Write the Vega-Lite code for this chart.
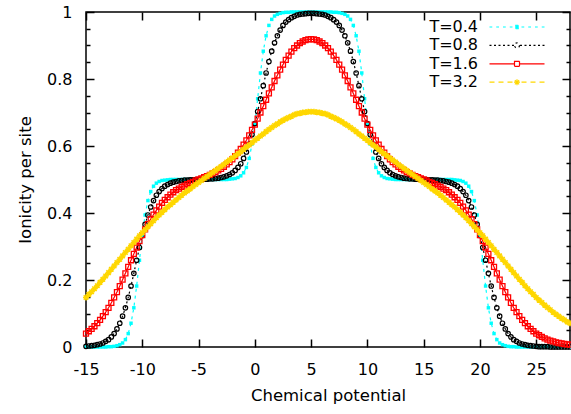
{
"$schema":"https://vega.github.io/schema/vega-lite/v6.json",
"width":484,"height":335,
"autosize":{"type":"none"},
"padding":{"left":86,"top":12,"right":1,"bottom":67},
"background":"white",
"config":{
"view":{"stroke":"black","strokeWidth":1.5},
"font":"DejaVu Sans",
"axis":{"grid":false,"domain":false,"tickColor":"black","tickWidth":1.5,"labelFont":"DejaVu Sans","labelFontSize":16,"labelColor":"black","titleFont":"DejaVu Sans","titleFontSize":16.5,"titleFontWeight":"normal","titleColor":"black","labelFlush":false,"labelOverlap":false}
},
"data":{"values":[
{"T":"T=0.4","mu":-15,"v":0},{"T":"T=0.4","mu":-14.75,"v":0},{"T":"T=0.4","mu":-14.5,"v":0},{"T":"T=0.4","mu":-14.25,"v":0},{"T":"T=0.4","mu":-14,"v":0},{"T":"T=0.4","mu":-13.75,"v":0},{"T":"T=0.4","mu":-13.5,"v":0},{"T":"T=0.4","mu":-13.25,"v":0},{"T":"T=0.4","mu":-13,"v":0.001},{"T":"T=0.4","mu":-12.75,"v":0.001},{"T":"T=0.4","mu":-12.5,"v":0.002},{"T":"T=0.4","mu":-12.25,"v":0.004},{"T":"T=0.4","mu":-12,"v":0.007},{"T":"T=0.4","mu":-11.75,"v":0.012},{"T":"T=0.4","mu":-11.5,"v":0.022},{"T":"T=0.4","mu":-11.25,"v":0.04},{"T":"T=0.4","mu":-11,"v":0.071},{"T":"T=0.4","mu":-10.75,"v":0.117},{"T":"T=0.4","mu":-10.5,"v":0.182},{"T":"T=0.4","mu":-10.25,"v":0.259},{"T":"T=0.4","mu":-10,"v":0.333},{"T":"T=0.4","mu":-9.75,"v":0.394},{"T":"T=0.4","mu":-9.5,"v":0.437},{"T":"T=0.4","mu":-9.25,"v":0.464},{"T":"T=0.4","mu":-9,"v":0.48},{"T":"T=0.4","mu":-8.75,"v":0.489},{"T":"T=0.4","mu":-8.5,"v":0.494},{"T":"T=0.4","mu":-8.25,"v":0.497},{"T":"T=0.4","mu":-8,"v":0.498},{"T":"T=0.4","mu":-7.75,"v":0.499},{"T":"T=0.4","mu":-7.5,"v":0.5},{"T":"T=0.4","mu":-7.25,"v":0.5},{"T":"T=0.4","mu":-7,"v":0.5},{"T":"T=0.4","mu":-6.75,"v":0.5},{"T":"T=0.4","mu":-6.5,"v":0.5},{"T":"T=0.4","mu":-6.25,"v":0.5},{"T":"T=0.4","mu":-6,"v":0.5},{"T":"T=0.4","mu":-5.75,"v":0.5},{"T":"T=0.4","mu":-5.5,"v":0.5},{"T":"T=0.4","mu":-5.25,"v":0.5},{"T":"T=0.4","mu":-5,"v":0.5},{"T":"T=0.4","mu":-4.75,"v":0.5},{"T":"T=0.4","mu":-4.5,"v":0.5},{"T":"T=0.4","mu":-4.25,"v":0.5},{"T":"T=0.4","mu":-4,"v":0.5},{"T":"T=0.4","mu":-3.75,"v":0.5},{"T":"T=0.4","mu":-3.5,"v":0.5},{"T":"T=0.4","mu":-3.25,"v":0.5},{"T":"T=0.4","mu":-3,"v":0.5},{"T":"T=0.4","mu":-2.75,"v":0.5},{"T":"T=0.4","mu":-2.5,"v":0.5},{"T":"T=0.4","mu":-2.25,"v":0.501},{"T":"T=0.4","mu":-2,"v":0.502},{"T":"T=0.4","mu":-1.75,"v":0.503},{"T":"T=0.4","mu":-1.5,"v":0.506},{"T":"T=0.4","mu":-1.25,"v":0.511},{"T":"T=0.4","mu":-1,"v":0.52},{"T":"T=0.4","mu":-0.75,"v":0.536},{"T":"T=0.4","mu":-0.5,"v":0.563},{"T":"T=0.4","mu":-0.25,"v":0.606},{"T":"T=0.4","mu":0,"v":0.667},{"T":"T=0.4","mu":0.25,"v":0.741},{"T":"T=0.4","mu":0.5,"v":0.818},{"T":"T=0.4","mu":0.75,"v":0.883},{"T":"T=0.4","mu":1,"v":0.929},{"T":"T=0.4","mu":1.25,"v":0.96},{"T":"T=0.4","mu":1.5,"v":0.978},{"T":"T=0.4","mu":1.75,"v":0.988},{"T":"T=0.4","mu":2,"v":0.993},{"T":"T=0.4","mu":2.25,"v":0.996},{"T":"T=0.4","mu":2.5,"v":0.998},{"T":"T=0.4","mu":2.75,"v":0.999},{"T":"T=0.4","mu":3,"v":0.999},{"T":"T=0.4","mu":3.25,"v":1},{"T":"T=0.4","mu":3.5,"v":1},{"T":"T=0.4","mu":3.75,"v":1},{"T":"T=0.4","mu":4,"v":1},{"T":"T=0.4","mu":4.25,"v":1},{"T":"T=0.4","mu":4.5,"v":1},{"T":"T=0.4","mu":4.75,"v":1},{"T":"T=0.4","mu":5,"v":1},{"T":"T=0.4","mu":5.25,"v":1},{"T":"T=0.4","mu":5.5,"v":1},{"T":"T=0.4","mu":5.75,"v":1},{"T":"T=0.4","mu":6,"v":1},{"T":"T=0.4","mu":6.25,"v":1},{"T":"T=0.4","mu":6.5,"v":1},{"T":"T=0.4","mu":6.75,"v":1},{"T":"T=0.4","mu":7,"v":0.999},{"T":"T=0.4","mu":7.25,"v":0.999},{"T":"T=0.4","mu":7.5,"v":0.998},{"T":"T=0.4","mu":7.75,"v":0.996},{"T":"T=0.4","mu":8,"v":0.993},{"T":"T=0.4","mu":8.25,"v":0.988},{"T":"T=0.4","mu":8.5,"v":0.978},{"T":"T=0.4","mu":8.75,"v":0.96},{"T":"T=0.4","mu":9,"v":0.929},{"T":"T=0.4","mu":9.25,"v":0.883},{"T":"T=0.4","mu":9.5,"v":0.818},{"T":"T=0.4","mu":9.75,"v":0.741},{"T":"T=0.4","mu":10,"v":0.667},{"T":"T=0.4","mu":10.25,"v":0.606},{"T":"T=0.4","mu":10.5,"v":0.563},{"T":"T=0.4","mu":10.75,"v":0.536},{"T":"T=0.4","mu":11,"v":0.52},{"T":"T=0.4","mu":11.25,"v":0.511},{"T":"T=0.4","mu":11.5,"v":0.506},{"T":"T=0.4","mu":11.75,"v":0.503},{"T":"T=0.4","mu":12,"v":0.502},{"T":"T=0.4","mu":12.25,"v":0.501},{"T":"T=0.4","mu":12.5,"v":0.5},{"T":"T=0.4","mu":12.75,"v":0.5},{"T":"T=0.4","mu":13,"v":0.5},{"T":"T=0.4","mu":13.25,"v":0.5},{"T":"T=0.4","mu":13.5,"v":0.5},{"T":"T=0.4","mu":13.75,"v":0.5},{"T":"T=0.4","mu":14,"v":0.5},{"T":"T=0.4","mu":14.25,"v":0.5},{"T":"T=0.4","mu":14.5,"v":0.5},{"T":"T=0.4","mu":14.75,"v":0.5},{"T":"T=0.4","mu":15,"v":0.5},{"T":"T=0.4","mu":15.25,"v":0.5},{"T":"T=0.4","mu":15.5,"v":0.5},{"T":"T=0.4","mu":15.75,"v":0.5},{"T":"T=0.4","mu":16,"v":0.5},{"T":"T=0.4","mu":16.25,"v":0.5},{"T":"T=0.4","mu":16.5,"v":0.5},{"T":"T=0.4","mu":16.75,"v":0.5},{"T":"T=0.4","mu":17,"v":0.5},{"T":"T=0.4","mu":17.25,"v":0.5},{"T":"T=0.4","mu":17.5,"v":0.5},{"T":"T=0.4","mu":17.75,"v":0.499},{"T":"T=0.4","mu":18,"v":0.498},{"T":"T=0.4","mu":18.25,"v":0.497},{"T":"T=0.4","mu":18.5,"v":0.494},{"T":"T=0.4","mu":18.75,"v":0.489},{"T":"T=0.4","mu":19,"v":0.48},{"T":"T=0.4","mu":19.25,"v":0.464},{"T":"T=0.4","mu":19.5,"v":0.437},{"T":"T=0.4","mu":19.75,"v":0.394},{"T":"T=0.4","mu":20,"v":0.333},{"T":"T=0.4","mu":20.25,"v":0.259},{"T":"T=0.4","mu":20.5,"v":0.182},{"T":"T=0.4","mu":20.75,"v":0.117},{"T":"T=0.4","mu":21,"v":0.071},{"T":"T=0.4","mu":21.25,"v":0.04},{"T":"T=0.4","mu":21.5,"v":0.022},{"T":"T=0.4","mu":21.75,"v":0.012},{"T":"T=0.4","mu":22,"v":0.007},{"T":"T=0.4","mu":22.25,"v":0.004},{"T":"T=0.4","mu":22.5,"v":0.002},{"T":"T=0.4","mu":22.75,"v":0.001},{"T":"T=0.4","mu":23,"v":0.001},{"T":"T=0.4","mu":23.25,"v":0},{"T":"T=0.4","mu":23.5,"v":0},{"T":"T=0.4","mu":23.75,"v":0},{"T":"T=0.4","mu":24,"v":0},{"T":"T=0.4","mu":24.25,"v":0},{"T":"T=0.4","mu":24.5,"v":0},{"T":"T=0.4","mu":24.75,"v":0},{"T":"T=0.4","mu":25,"v":0},{"T":"T=0.4","mu":25.25,"v":0},{"T":"T=0.4","mu":25.5,"v":0},{"T":"T=0.4","mu":25.75,"v":0},{"T":"T=0.4","mu":26,"v":0},{"T":"T=0.4","mu":26.25,"v":0},{"T":"T=0.4","mu":26.5,"v":0},{"T":"T=0.4","mu":26.75,"v":0},{"T":"T=0.4","mu":27,"v":0},{"T":"T=0.4","mu":27.25,"v":0},{"T":"T=0.4","mu":27.5,"v":0},{"T":"T=0.4","mu":27.75,"v":0},{"T":"T=0.4","mu":28,"v":0},
{"T":"T=0.8","mu":-15,"v":0.002},{"T":"T=0.8","mu":-14.75,"v":0.003},{"T":"T=0.8","mu":-14.5,"v":0.004},{"T":"T=0.8","mu":-14.25,"v":0.005},{"T":"T=0.8","mu":-14,"v":0.007},{"T":"T=0.8","mu":-13.75,"v":0.009},{"T":"T=0.8","mu":-13.5,"v":0.012},{"T":"T=0.8","mu":-13.25,"v":0.017},{"T":"T=0.8","mu":-13,"v":0.022},{"T":"T=0.8","mu":-12.75,"v":0.03},{"T":"T=0.8","mu":-12.5,"v":0.04},{"T":"T=0.8","mu":-12.25,"v":0.054},{"T":"T=0.8","mu":-12,"v":0.071},{"T":"T=0.8","mu":-11.75,"v":0.092},{"T":"T=0.8","mu":-11.5,"v":0.117},{"T":"T=0.8","mu":-11.25,"v":0.148},{"T":"T=0.8","mu":-11,"v":0.182},{"T":"T=0.8","mu":-10.75,"v":0.22},{"T":"T=0.8","mu":-10.5,"v":0.259},{"T":"T=0.8","mu":-10.25,"v":0.297},{"T":"T=0.8","mu":-10,"v":0.333},{"T":"T=0.8","mu":-9.75,"v":0.366},{"T":"T=0.8","mu":-9.5,"v":0.394},{"T":"T=0.8","mu":-9.25,"v":0.418},{"T":"T=0.8","mu":-9,"v":0.437},{"T":"T=0.8","mu":-8.75,"v":0.453},{"T":"T=0.8","mu":-8.5,"v":0.464},{"T":"T=0.8","mu":-8.25,"v":0.473},{"T":"T=0.8","mu":-8,"v":0.48},{"T":"T=0.8","mu":-7.75,"v":0.485},{"T":"T=0.8","mu":-7.5,"v":0.489},{"T":"T=0.8","mu":-7.25,"v":0.492},{"T":"T=0.8","mu":-7,"v":0.494},{"T":"T=0.8","mu":-6.75,"v":0.496},{"T":"T=0.8","mu":-6.5,"v":0.497},{"T":"T=0.8","mu":-6.25,"v":0.498},{"T":"T=0.8","mu":-6,"v":0.498},{"T":"T=0.8","mu":-5.75,"v":0.499},{"T":"T=0.8","mu":-5.5,"v":0.499},{"T":"T=0.8","mu":-5.25,"v":0.5},{"T":"T=0.8","mu":-5,"v":0.5},{"T":"T=0.8","mu":-4.75,"v":0.5},{"T":"T=0.8","mu":-4.5,"v":0.501},{"T":"T=0.8","mu":-4.25,"v":0.501},{"T":"T=0.8","mu":-4,"v":0.502},{"T":"T=0.8","mu":-3.75,"v":0.502},{"T":"T=0.8","mu":-3.5,"v":0.503},{"T":"T=0.8","mu":-3.25,"v":0.504},{"T":"T=0.8","mu":-3,"v":0.506},{"T":"T=0.8","mu":-2.75,"v":0.508},{"T":"T=0.8","mu":-2.5,"v":0.511},{"T":"T=0.8","mu":-2.25,"v":0.515},{"T":"T=0.8","mu":-2,"v":0.52},{"T":"T=0.8","mu":-1.75,"v":0.527},{"T":"T=0.8","mu":-1.5,"v":0.536},{"T":"T=0.8","mu":-1.25,"v":0.547},{"T":"T=0.8","mu":-1,"v":0.563},{"T":"T=0.8","mu":-0.75,"v":0.582},{"T":"T=0.8","mu":-0.5,"v":0.606},{"T":"T=0.8","mu":-0.25,"v":0.634},{"T":"T=0.8","mu":0,"v":0.667},{"T":"T=0.8","mu":0.25,"v":0.703},{"T":"T=0.8","mu":0.5,"v":0.741},{"T":"T=0.8","mu":0.75,"v":0.78},{"T":"T=0.8","mu":1,"v":0.818},{"T":"T=0.8","mu":1.25,"v":0.852},{"T":"T=0.8","mu":1.5,"v":0.883},{"T":"T=0.8","mu":1.75,"v":0.908},{"T":"T=0.8","mu":2,"v":0.929},{"T":"T=0.8","mu":2.25,"v":0.946},{"T":"T=0.8","mu":2.5,"v":0.96},{"T":"T=0.8","mu":2.75,"v":0.97},{"T":"T=0.8","mu":3,"v":0.977},{"T":"T=0.8","mu":3.25,"v":0.983},{"T":"T=0.8","mu":3.5,"v":0.987},{"T":"T=0.8","mu":3.75,"v":0.991},{"T":"T=0.8","mu":4,"v":0.993},{"T":"T=0.8","mu":4.25,"v":0.994},{"T":"T=0.8","mu":4.5,"v":0.995},{"T":"T=0.8","mu":4.75,"v":0.996},{"T":"T=0.8","mu":5,"v":0.996},{"T":"T=0.8","mu":5.25,"v":0.996},{"T":"T=0.8","mu":5.5,"v":0.995},{"T":"T=0.8","mu":5.75,"v":0.994},{"T":"T=0.8","mu":6,"v":0.993},{"T":"T=0.8","mu":6.25,"v":0.991},{"T":"T=0.8","mu":6.5,"v":0.987},{"T":"T=0.8","mu":6.75,"v":0.983},{"T":"T=0.8","mu":7,"v":0.977},{"T":"T=0.8","mu":7.25,"v":0.97},{"T":"T=0.8","mu":7.5,"v":0.96},{"T":"T=0.8","mu":7.75,"v":0.946},{"T":"T=0.8","mu":8,"v":0.929},{"T":"T=0.8","mu":8.25,"v":0.908},{"T":"T=0.8","mu":8.5,"v":0.883},{"T":"T=0.8","mu":8.75,"v":0.852},{"T":"T=0.8","mu":9,"v":0.818},{"T":"T=0.8","mu":9.25,"v":0.78},{"T":"T=0.8","mu":9.5,"v":0.741},{"T":"T=0.8","mu":9.75,"v":0.703},{"T":"T=0.8","mu":10,"v":0.667},{"T":"T=0.8","mu":10.25,"v":0.634},{"T":"T=0.8","mu":10.5,"v":0.606},{"T":"T=0.8","mu":10.75,"v":0.582},{"T":"T=0.8","mu":11,"v":0.563},{"T":"T=0.8","mu":11.25,"v":0.547},{"T":"T=0.8","mu":11.5,"v":0.536},{"T":"T=0.8","mu":11.75,"v":0.527},{"T":"T=0.8","mu":12,"v":0.52},{"T":"T=0.8","mu":12.25,"v":0.515},{"T":"T=0.8","mu":12.5,"v":0.511},{"T":"T=0.8","mu":12.75,"v":0.508},{"T":"T=0.8","mu":13,"v":0.506},{"T":"T=0.8","mu":13.25,"v":0.504},{"T":"T=0.8","mu":13.5,"v":0.503},{"T":"T=0.8","mu":13.75,"v":0.502},{"T":"T=0.8","mu":14,"v":0.502},{"T":"T=0.8","mu":14.25,"v":0.501},{"T":"T=0.8","mu":14.5,"v":0.501},{"T":"T=0.8","mu":14.75,"v":0.5},{"T":"T=0.8","mu":15,"v":0.5},{"T":"T=0.8","mu":15.25,"v":0.5},{"T":"T=0.8","mu":15.5,"v":0.499},{"T":"T=0.8","mu":15.75,"v":0.499},{"T":"T=0.8","mu":16,"v":0.498},{"T":"T=0.8","mu":16.25,"v":0.498},{"T":"T=0.8","mu":16.5,"v":0.497},{"T":"T=0.8","mu":16.75,"v":0.496},{"T":"T=0.8","mu":17,"v":0.494},{"T":"T=0.8","mu":17.25,"v":0.492},{"T":"T=0.8","mu":17.5,"v":0.489},{"T":"T=0.8","mu":17.75,"v":0.485},{"T":"T=0.8","mu":18,"v":0.48},{"T":"T=0.8","mu":18.25,"v":0.473},{"T":"T=0.8","mu":18.5,"v":0.464},{"T":"T=0.8","mu":18.75,"v":0.453},{"T":"T=0.8","mu":19,"v":0.437},{"T":"T=0.8","mu":19.25,"v":0.418},{"T":"T=0.8","mu":19.5,"v":0.394},{"T":"T=0.8","mu":19.75,"v":0.366},{"T":"T=0.8","mu":20,"v":0.333},{"T":"T=0.8","mu":20.25,"v":0.297},{"T":"T=0.8","mu":20.5,"v":0.259},{"T":"T=0.8","mu":20.75,"v":0.22},{"T":"T=0.8","mu":21,"v":0.182},{"T":"T=0.8","mu":21.25,"v":0.148},{"T":"T=0.8","mu":21.5,"v":0.117},{"T":"T=0.8","mu":21.75,"v":0.092},{"T":"T=0.8","mu":22,"v":0.071},{"T":"T=0.8","mu":22.25,"v":0.054},{"T":"T=0.8","mu":22.5,"v":0.04},{"T":"T=0.8","mu":22.75,"v":0.03},{"T":"T=0.8","mu":23,"v":0.022},{"T":"T=0.8","mu":23.25,"v":0.017},{"T":"T=0.8","mu":23.5,"v":0.012},{"T":"T=0.8","mu":23.75,"v":0.009},{"T":"T=0.8","mu":24,"v":0.007},{"T":"T=0.8","mu":24.25,"v":0.005},{"T":"T=0.8","mu":24.5,"v":0.004},{"T":"T=0.8","mu":24.75,"v":0.003},{"T":"T=0.8","mu":25,"v":0.002},{"T":"T=0.8","mu":25.25,"v":0.001},{"T":"T=0.8","mu":25.5,"v":0.001},{"T":"T=0.8","mu":25.75,"v":0.001},{"T":"T=0.8","mu":26,"v":0.001},{"T":"T=0.8","mu":26.25,"v":0},{"T":"T=0.8","mu":26.5,"v":0},{"T":"T=0.8","mu":26.75,"v":0},{"T":"T=0.8","mu":27,"v":0},{"T":"T=0.8","mu":27.25,"v":0},{"T":"T=0.8","mu":27.5,"v":0},{"T":"T=0.8","mu":27.75,"v":0},{"T":"T=0.8","mu":28,"v":0},
{"T":"T=1.6","mu":-15,"v":0.04},{"T":"T=1.6","mu":-14.75,"v":0.047},{"T":"T=1.6","mu":-14.5,"v":0.054},{"T":"T=1.6","mu":-14.25,"v":0.062},{"T":"T=1.6","mu":-14,"v":0.071},{"T":"T=1.6","mu":-13.75,"v":0.081},{"T":"T=1.6","mu":-13.5,"v":0.092},{"T":"T=1.6","mu":-13.25,"v":0.104},{"T":"T=1.6","mu":-13,"v":0.117},{"T":"T=1.6","mu":-12.75,"v":0.132},{"T":"T=1.6","mu":-12.5,"v":0.148},{"T":"T=1.6","mu":-12.25,"v":0.164},{"T":"T=1.6","mu":-12,"v":0.182},{"T":"T=1.6","mu":-11.75,"v":0.201},{"T":"T=1.6","mu":-11.5,"v":0.22},{"T":"T=1.6","mu":-11.25,"v":0.239},{"T":"T=1.6","mu":-11,"v":0.259},{"T":"T=1.6","mu":-10.75,"v":0.278},{"T":"T=1.6","mu":-10.5,"v":0.297},{"T":"T=1.6","mu":-10.25,"v":0.316},{"T":"T=1.6","mu":-10,"v":0.334},{"T":"T=1.6","mu":-9.75,"v":0.351},{"T":"T=1.6","mu":-9.5,"v":0.367},{"T":"T=1.6","mu":-9.25,"v":0.382},{"T":"T=1.6","mu":-9,"v":0.395},{"T":"T=1.6","mu":-8.75,"v":0.408},{"T":"T=1.6","mu":-8.5,"v":0.419},{"T":"T=1.6","mu":-8.25,"v":0.43},{"T":"T=1.6","mu":-8,"v":0.439},{"T":"T=1.6","mu":-7.75,"v":0.447},{"T":"T=1.6","mu":-7.5,"v":0.455},{"T":"T=1.6","mu":-7.25,"v":0.462},{"T":"T=1.6","mu":-7,"v":0.468},{"T":"T=1.6","mu":-6.75,"v":0.473},{"T":"T=1.6","mu":-6.5,"v":0.478},{"T":"T=1.6","mu":-6.25,"v":0.482},{"T":"T=1.6","mu":-6,"v":0.486},{"T":"T=1.6","mu":-5.75,"v":0.49},{"T":"T=1.6","mu":-5.5,"v":0.493},{"T":"T=1.6","mu":-5.25,"v":0.497},{"T":"T=1.6","mu":-5,"v":0.5},{"T":"T=1.6","mu":-4.75,"v":0.503},{"T":"T=1.6","mu":-4.5,"v":0.507},{"T":"T=1.6","mu":-4.25,"v":0.51},{"T":"T=1.6","mu":-4,"v":0.514},{"T":"T=1.6","mu":-3.75,"v":0.518},{"T":"T=1.6","mu":-3.5,"v":0.522},{"T":"T=1.6","mu":-3.25,"v":0.527},{"T":"T=1.6","mu":-3,"v":0.532},{"T":"T=1.6","mu":-2.75,"v":0.538},{"T":"T=1.6","mu":-2.5,"v":0.545},{"T":"T=1.6","mu":-2.25,"v":0.552},{"T":"T=1.6","mu":-2,"v":0.56},{"T":"T=1.6","mu":-1.75,"v":0.57},{"T":"T=1.6","mu":-1.5,"v":0.58},{"T":"T=1.6","mu":-1.25,"v":0.591},{"T":"T=1.6","mu":-1,"v":0.604},{"T":"T=1.6","mu":-0.75,"v":0.617},{"T":"T=1.6","mu":-0.5,"v":0.632},{"T":"T=1.6","mu":-0.25,"v":0.648},{"T":"T=1.6","mu":0,"v":0.664},{"T":"T=1.6","mu":0.25,"v":0.682},{"T":"T=1.6","mu":0.5,"v":0.7},{"T":"T=1.6","mu":0.75,"v":0.719},{"T":"T=1.6","mu":1,"v":0.738},{"T":"T=1.6","mu":1.25,"v":0.757},{"T":"T=1.6","mu":1.5,"v":0.775},{"T":"T=1.6","mu":1.75,"v":0.794},{"T":"T=1.6","mu":2,"v":0.811},{"T":"T=1.6","mu":2.25,"v":0.828},{"T":"T=1.6","mu":2.5,"v":0.843},{"T":"T=1.6","mu":2.75,"v":0.857},{"T":"T=1.6","mu":3,"v":0.87},{"T":"T=1.6","mu":3.25,"v":0.882},{"T":"T=1.6","mu":3.5,"v":0.892},{"T":"T=1.6","mu":3.75,"v":0.9},{"T":"T=1.6","mu":4,"v":0.907},{"T":"T=1.6","mu":4.25,"v":0.912},{"T":"T=1.6","mu":4.5,"v":0.916},{"T":"T=1.6","mu":4.75,"v":0.918},{"T":"T=1.6","mu":5,"v":0.919},{"T":"T=1.6","mu":5.25,"v":0.918},{"T":"T=1.6","mu":5.5,"v":0.916},{"T":"T=1.6","mu":5.75,"v":0.912},{"T":"T=1.6","mu":6,"v":0.907},{"T":"T=1.6","mu":6.25,"v":0.9},{"T":"T=1.6","mu":6.5,"v":0.892},{"T":"T=1.6","mu":6.75,"v":0.882},{"T":"T=1.6","mu":7,"v":0.87},{"T":"T=1.6","mu":7.25,"v":0.857},{"T":"T=1.6","mu":7.5,"v":0.843},{"T":"T=1.6","mu":7.75,"v":0.828},{"T":"T=1.6","mu":8,"v":0.811},{"T":"T=1.6","mu":8.25,"v":0.794},{"T":"T=1.6","mu":8.5,"v":0.775},{"T":"T=1.6","mu":8.75,"v":0.757},{"T":"T=1.6","mu":9,"v":0.738},{"T":"T=1.6","mu":9.25,"v":0.719},{"T":"T=1.6","mu":9.5,"v":0.7},{"T":"T=1.6","mu":9.75,"v":0.682},{"T":"T=1.6","mu":10,"v":0.664},{"T":"T=1.6","mu":10.25,"v":0.648},{"T":"T=1.6","mu":10.5,"v":0.632},{"T":"T=1.6","mu":10.75,"v":0.617},{"T":"T=1.6","mu":11,"v":0.604},{"T":"T=1.6","mu":11.25,"v":0.591},{"T":"T=1.6","mu":11.5,"v":0.58},{"T":"T=1.6","mu":11.75,"v":0.57},{"T":"T=1.6","mu":12,"v":0.56},{"T":"T=1.6","mu":12.25,"v":0.552},{"T":"T=1.6","mu":12.5,"v":0.545},{"T":"T=1.6","mu":12.75,"v":0.538},{"T":"T=1.6","mu":13,"v":0.532},{"T":"T=1.6","mu":13.25,"v":0.527},{"T":"T=1.6","mu":13.5,"v":0.522},{"T":"T=1.6","mu":13.75,"v":0.518},{"T":"T=1.6","mu":14,"v":0.514},{"T":"T=1.6","mu":14.25,"v":0.51},{"T":"T=1.6","mu":14.5,"v":0.507},{"T":"T=1.6","mu":14.75,"v":0.503},{"T":"T=1.6","mu":15,"v":0.5},{"T":"T=1.6","mu":15.25,"v":0.497},{"T":"T=1.6","mu":15.5,"v":0.493},{"T":"T=1.6","mu":15.75,"v":0.49},{"T":"T=1.6","mu":16,"v":0.486},{"T":"T=1.6","mu":16.25,"v":0.482},{"T":"T=1.6","mu":16.5,"v":0.478},{"T":"T=1.6","mu":16.75,"v":0.473},{"T":"T=1.6","mu":17,"v":0.468},{"T":"T=1.6","mu":17.25,"v":0.462},{"T":"T=1.6","mu":17.5,"v":0.455},{"T":"T=1.6","mu":17.75,"v":0.447},{"T":"T=1.6","mu":18,"v":0.439},{"T":"T=1.6","mu":18.25,"v":0.43},{"T":"T=1.6","mu":18.5,"v":0.419},{"T":"T=1.6","mu":18.75,"v":0.408},{"T":"T=1.6","mu":19,"v":0.395},{"T":"T=1.6","mu":19.25,"v":0.382},{"T":"T=1.6","mu":19.5,"v":0.367},{"T":"T=1.6","mu":19.75,"v":0.351},{"T":"T=1.6","mu":20,"v":0.334},{"T":"T=1.6","mu":20.25,"v":0.316},{"T":"T=1.6","mu":20.5,"v":0.297},{"T":"T=1.6","mu":20.75,"v":0.278},{"T":"T=1.6","mu":21,"v":0.259},{"T":"T=1.6","mu":21.25,"v":0.239},{"T":"T=1.6","mu":21.5,"v":0.22},{"T":"T=1.6","mu":21.75,"v":0.201},{"T":"T=1.6","mu":22,"v":0.182},{"T":"T=1.6","mu":22.25,"v":0.164},{"T":"T=1.6","mu":22.5,"v":0.148},{"T":"T=1.6","mu":22.75,"v":0.132},{"T":"T=1.6","mu":23,"v":0.117},{"T":"T=1.6","mu":23.25,"v":0.104},{"T":"T=1.6","mu":23.5,"v":0.092},{"T":"T=1.6","mu":23.75,"v":0.081},{"T":"T=1.6","mu":24,"v":0.071},{"T":"T=1.6","mu":24.25,"v":0.062},{"T":"T=1.6","mu":24.5,"v":0.054},{"T":"T=1.6","mu":24.75,"v":0.047},{"T":"T=1.6","mu":25,"v":0.04},{"T":"T=1.6","mu":25.25,"v":0.035},{"T":"T=1.6","mu":25.5,"v":0.03},{"T":"T=1.6","mu":25.75,"v":0.026},{"T":"T=1.6","mu":26,"v":0.022},{"T":"T=1.6","mu":26.25,"v":0.019},{"T":"T=1.6","mu":26.5,"v":0.017},{"T":"T=1.6","mu":26.75,"v":0.014},{"T":"T=1.6","mu":27,"v":0.012},{"T":"T=1.6","mu":27.25,"v":0.011},{"T":"T=1.6","mu":27.5,"v":0.009},{"T":"T=1.6","mu":27.75,"v":0.008},{"T":"T=1.6","mu":28,"v":0.007},
{"T":"T=3.2","mu":-15,"v":0.148},{"T":"T=3.2","mu":-14.75,"v":0.157},{"T":"T=3.2","mu":-14.5,"v":0.165},{"T":"T=3.2","mu":-14.25,"v":0.174},{"T":"T=3.2","mu":-14,"v":0.183},{"T":"T=3.2","mu":-13.75,"v":0.193},{"T":"T=3.2","mu":-13.5,"v":0.202},{"T":"T=3.2","mu":-13.25,"v":0.212},{"T":"T=3.2","mu":-13,"v":0.222},{"T":"T=3.2","mu":-12.75,"v":0.232},{"T":"T=3.2","mu":-12.5,"v":0.242},{"T":"T=3.2","mu":-12.25,"v":0.252},{"T":"T=3.2","mu":-12,"v":0.262},{"T":"T=3.2","mu":-11.75,"v":0.272},{"T":"T=3.2","mu":-11.5,"v":0.282},{"T":"T=3.2","mu":-11.25,"v":0.292},{"T":"T=3.2","mu":-11,"v":0.302},{"T":"T=3.2","mu":-10.75,"v":0.312},{"T":"T=3.2","mu":-10.5,"v":0.322},{"T":"T=3.2","mu":-10.25,"v":0.332},{"T":"T=3.2","mu":-10,"v":0.341},{"T":"T=3.2","mu":-9.75,"v":0.35},{"T":"T=3.2","mu":-9.5,"v":0.359},{"T":"T=3.2","mu":-9.25,"v":0.368},{"T":"T=3.2","mu":-9,"v":0.377},{"T":"T=3.2","mu":-8.75,"v":0.386},{"T":"T=3.2","mu":-8.5,"v":0.394},{"T":"T=3.2","mu":-8.25,"v":0.402},{"T":"T=3.2","mu":-8,"v":0.41},{"T":"T=3.2","mu":-7.75,"v":0.418},{"T":"T=3.2","mu":-7.5,"v":0.425},{"T":"T=3.2","mu":-7.25,"v":0.432},{"T":"T=3.2","mu":-7,"v":0.439},{"T":"T=3.2","mu":-6.75,"v":0.446},{"T":"T=3.2","mu":-6.5,"v":0.453},{"T":"T=3.2","mu":-6.25,"v":0.46},{"T":"T=3.2","mu":-6,"v":0.466},{"T":"T=3.2","mu":-5.75,"v":0.472},{"T":"T=3.2","mu":-5.5,"v":0.479},{"T":"T=3.2","mu":-5.25,"v":0.485},{"T":"T=3.2","mu":-5,"v":0.491},{"T":"T=3.2","mu":-4.75,"v":0.497},{"T":"T=3.2","mu":-4.5,"v":0.503},{"T":"T=3.2","mu":-4.25,"v":0.509},{"T":"T=3.2","mu":-4,"v":0.515},{"T":"T=3.2","mu":-3.75,"v":0.521},{"T":"T=3.2","mu":-3.5,"v":0.527},{"T":"T=3.2","mu":-3.25,"v":0.533},{"T":"T=3.2","mu":-3,"v":0.539},{"T":"T=3.2","mu":-2.75,"v":0.545},{"T":"T=3.2","mu":-2.5,"v":0.552},{"T":"T=3.2","mu":-2.25,"v":0.558},{"T":"T=3.2","mu":-2,"v":0.564},{"T":"T=3.2","mu":-1.75,"v":0.571},{"T":"T=3.2","mu":-1.5,"v":0.577},{"T":"T=3.2","mu":-1.25,"v":0.583},{"T":"T=3.2","mu":-1,"v":0.59},{"T":"T=3.2","mu":-0.75,"v":0.597},{"T":"T=3.2","mu":-0.5,"v":0.603},{"T":"T=3.2","mu":-0.25,"v":0.61},{"T":"T=3.2","mu":0,"v":0.617},{"T":"T=3.2","mu":0.25,"v":0.623},{"T":"T=3.2","mu":0.5,"v":0.63},{"T":"T=3.2","mu":0.75,"v":0.636},{"T":"T=3.2","mu":1,"v":0.643},{"T":"T=3.2","mu":1.25,"v":0.649},{"T":"T=3.2","mu":1.5,"v":0.655},{"T":"T=3.2","mu":1.75,"v":0.661},{"T":"T=3.2","mu":2,"v":0.666},{"T":"T=3.2","mu":2.25,"v":0.672},{"T":"T=3.2","mu":2.5,"v":0.677},{"T":"T=3.2","mu":2.75,"v":0.681},{"T":"T=3.2","mu":3,"v":0.685},{"T":"T=3.2","mu":3.25,"v":0.689},{"T":"T=3.2","mu":3.5,"v":0.693},{"T":"T=3.2","mu":3.75,"v":0.696},{"T":"T=3.2","mu":4,"v":0.698},{"T":"T=3.2","mu":4.25,"v":0.7},{"T":"T=3.2","mu":4.5,"v":0.701},{"T":"T=3.2","mu":4.75,"v":0.702},{"T":"T=3.2","mu":5,"v":0.702},{"T":"T=3.2","mu":5.25,"v":0.702},{"T":"T=3.2","mu":5.5,"v":0.701},{"T":"T=3.2","mu":5.75,"v":0.7},{"T":"T=3.2","mu":6,"v":0.698},{"T":"T=3.2","mu":6.25,"v":0.696},{"T":"T=3.2","mu":6.5,"v":0.693},{"T":"T=3.2","mu":6.75,"v":0.689},{"T":"T=3.2","mu":7,"v":0.685},{"T":"T=3.2","mu":7.25,"v":0.681},{"T":"T=3.2","mu":7.5,"v":0.677},{"T":"T=3.2","mu":7.75,"v":0.672},{"T":"T=3.2","mu":8,"v":0.666},{"T":"T=3.2","mu":8.25,"v":0.661},{"T":"T=3.2","mu":8.5,"v":0.655},{"T":"T=3.2","mu":8.75,"v":0.649},{"T":"T=3.2","mu":9,"v":0.643},{"T":"T=3.2","mu":9.25,"v":0.636},{"T":"T=3.2","mu":9.5,"v":0.63},{"T":"T=3.2","mu":9.75,"v":0.623},{"T":"T=3.2","mu":10,"v":0.617},{"T":"T=3.2","mu":10.25,"v":0.61},{"T":"T=3.2","mu":10.5,"v":0.603},{"T":"T=3.2","mu":10.75,"v":0.597},{"T":"T=3.2","mu":11,"v":0.59},{"T":"T=3.2","mu":11.25,"v":0.583},{"T":"T=3.2","mu":11.5,"v":0.577},{"T":"T=3.2","mu":11.75,"v":0.571},{"T":"T=3.2","mu":12,"v":0.564},{"T":"T=3.2","mu":12.25,"v":0.558},{"T":"T=3.2","mu":12.5,"v":0.552},{"T":"T=3.2","mu":12.75,"v":0.545},{"T":"T=3.2","mu":13,"v":0.539},{"T":"T=3.2","mu":13.25,"v":0.533},{"T":"T=3.2","mu":13.5,"v":0.527},{"T":"T=3.2","mu":13.75,"v":0.521},{"T":"T=3.2","mu":14,"v":0.515},{"T":"T=3.2","mu":14.25,"v":0.509},{"T":"T=3.2","mu":14.5,"v":0.503},{"T":"T=3.2","mu":14.75,"v":0.497},{"T":"T=3.2","mu":15,"v":0.491},{"T":"T=3.2","mu":15.25,"v":0.485},{"T":"T=3.2","mu":15.5,"v":0.479},{"T":"T=3.2","mu":15.75,"v":0.472},{"T":"T=3.2","mu":16,"v":0.466},{"T":"T=3.2","mu":16.25,"v":0.46},{"T":"T=3.2","mu":16.5,"v":0.453},{"T":"T=3.2","mu":16.75,"v":0.446},{"T":"T=3.2","mu":17,"v":0.439},{"T":"T=3.2","mu":17.25,"v":0.432},{"T":"T=3.2","mu":17.5,"v":0.425},{"T":"T=3.2","mu":17.75,"v":0.418},{"T":"T=3.2","mu":18,"v":0.41},{"T":"T=3.2","mu":18.25,"v":0.402},{"T":"T=3.2","mu":18.5,"v":0.394},{"T":"T=3.2","mu":18.75,"v":0.386},{"T":"T=3.2","mu":19,"v":0.377},{"T":"T=3.2","mu":19.25,"v":0.368},{"T":"T=3.2","mu":19.5,"v":0.359},{"T":"T=3.2","mu":19.75,"v":0.35},{"T":"T=3.2","mu":20,"v":0.341},{"T":"T=3.2","mu":20.25,"v":0.332},{"T":"T=3.2","mu":20.5,"v":0.322},{"T":"T=3.2","mu":20.75,"v":0.312},{"T":"T=3.2","mu":21,"v":0.302},{"T":"T=3.2","mu":21.25,"v":0.292},{"T":"T=3.2","mu":21.5,"v":0.282},{"T":"T=3.2","mu":21.75,"v":0.272},{"T":"T=3.2","mu":22,"v":0.262},{"T":"T=3.2","mu":22.25,"v":0.252},{"T":"T=3.2","mu":22.5,"v":0.242},{"T":"T=3.2","mu":22.75,"v":0.232},{"T":"T=3.2","mu":23,"v":0.222},{"T":"T=3.2","mu":23.25,"v":0.212},{"T":"T=3.2","mu":23.5,"v":0.202},{"T":"T=3.2","mu":23.75,"v":0.193},{"T":"T=3.2","mu":24,"v":0.183},{"T":"T=3.2","mu":24.25,"v":0.174},{"T":"T=3.2","mu":24.5,"v":0.165},{"T":"T=3.2","mu":24.75,"v":0.157},{"T":"T=3.2","mu":25,"v":0.148},{"T":"T=3.2","mu":25.25,"v":0.14},{"T":"T=3.2","mu":25.5,"v":0.133},{"T":"T=3.2","mu":25.75,"v":0.125},{"T":"T=3.2","mu":26,"v":0.118},{"T":"T=3.2","mu":26.25,"v":0.111},{"T":"T=3.2","mu":26.5,"v":0.104},{"T":"T=3.2","mu":26.75,"v":0.098},{"T":"T=3.2","mu":27,"v":0.092},{"T":"T=3.2","mu":27.25,"v":0.086},{"T":"T=3.2","mu":27.5,"v":0.081},{"T":"T=3.2","mu":27.75,"v":0.075},{"T":"T=3.2","mu":28,"v":0.071}
]},
"layer":[
{"mark":{"type":"line","strokeWidth":1.2},
"encoding":{
"x":{"field":"mu","type":"quantitative","scale":{"domain":[-15,28],"nice":false,"zero":false},
"axis":{"orient":"bottom","values":[-15,-10,-5,0,5,10,15,20,25],"tickSize":-8,"labelPadding":22,"labelExpr":"toString(datum.value)","title":"Chemical potential","titlePadding":10}},
"y":{"field":"v","type":"quantitative","scale":{"domain":[0,1],"nice":false,"zero":false},
"axis":{"orient":"left","values":[0,0.2,0.4,0.6,0.8,1],"tickSize":-8,"labelPadding":22,"labelExpr":"toString(datum.value)","title":"Ionicity per site","titlePadding":13}},
"color":{"field":"T","type":"nominal","scale":{"domain":["T=0.4","T=0.8","T=1.6","T=3.2"],"range":["#00ffff","#000000","#ff0000","#ffd700"]},
"legend":{"orient":"none","legendX":423,"legendY":7,"title":null,"padding":0,"rowPadding":2.4,
"symbolSize":25,"symbolStrokeWidth":1.2,"symbolType":"M-11,0H11",
"labelAlign":"right","labelOffset":-47,"labelFont":"DejaVu Sans","labelFontSize":16,"labelColor":"black","labelLimit":0,
"encode":{"symbols":{"update":{
"shape":[
{"test":"datum.value === 'T=0.4'","value":"M-11,0H-9.9M-8.3,0H-7.2M-5.6,0H-4.5M-2.9,0H-1.8M1.8,0H2.9M4.5,0H5.6M7.2,0H8.3M9.9,0H11M-0.7,-0.7H0.7V0.7H-0.7Z"},
{"test":"datum.value === 'T=0.8'","value":"M-11,0H-10.2M-9.2,0H-8.4M-7.4,0H-6.6M-5.6,0H-4.8M-3.8,0H-3M-2,0H-1.2M1.2,0H2M3,0H3.8M4.8,0H5.6M6.6,0H7.4M8.4,0H9.2M10.2,0H11M1,0A1,1 0 1,1 -1,0A1,1 0 1,1 1,0"},
{"test":"datum.value === 'T=1.6'","value":"M-11,0H-1M1,0H11M-1,-1H1V1H-1Z"},
{"value":"M-11,0H-9M-7.4,0H-5.4M-3.8,0H-1.8M1.8,0H3.8M5.4,0H7.4M9,0H11M-1.2,0H1.2M0,-1.2V1.2M-0.85,-0.85L0.85,0.85M-0.85,0.85L0.85,-0.85"}],
"stroke":[
{"test":"datum.value === 'T=0.4'","value":"#00ffff"},
{"test":"datum.value === 'T=0.8'","value":"#000000"},
{"test":"datum.value === 'T=1.6'","value":"#ff0000"},
{"value":"#ffd700"}],
"fill":[{"test":"datum.value === 'T=0.4'","value":"#00ffff"},{"value":"transparent"}],
"strokeDash":{"value":[1,0]}
}}}}},
"strokeDash":{"field":"T","type":"nominal","scale":{"domain":["T=0.4","T=0.8","T=1.6","T=3.2"],"range":[[3,4],[2,3],[1,0],[6,4]]},"legend":null}
}},
{"transform":[{"filter":"datum.T === 'T=0.4'"}],
"mark":{"type":"point","shape":"square","filled":true,"color":"#00ffff","size":12,"opacity":1},
"encoding":{
"x":{"field":"mu","type":"quantitative","axis":{"orient":"top","values":[-15,-10,-5,0,5,10,15,20,25],"tickSize":-8,"labels":false,"title":null}},
"y":{"field":"v","type":"quantitative","axis":{"orient":"right","values":[0,0.2,0.4,0.6,0.8,1],"tickSize":-8,"labels":false,"title":null}}
}},
{"transform":[{"filter":"datum.T === 'T=0.8'"}],
"mark":{"type":"point","shape":"circle","filled":false,"color":"#000000","size":20,"strokeWidth":1.2,"opacity":1},
"encoding":{
"x":{"field":"mu","type":"quantitative","axis":null},
"y":{"field":"v","type":"quantitative","axis":{"orient":"left","values":[0.05,0.1,0.15,0.25,0.3,0.35,0.45,0.5,0.55,0.65,0.7,0.75,0.85,0.9,0.95],"tickSize":-4,"labels":false,"title":null}}
}},
{"transform":[{"filter":"datum.T === 'T=1.6'"}],
"mark":{"type":"point","shape":"square","filled":false,"color":"#ff0000","size":25,"strokeWidth":1.3,"opacity":1},
"encoding":{
"x":{"field":"mu","type":"quantitative","axis":null},
"y":{"field":"v","type":"quantitative","axis":{"orient":"right","values":[0.05,0.1,0.15,0.25,0.3,0.35,0.45,0.5,0.55,0.65,0.7,0.75,0.85,0.9,0.95],"tickSize":-4,"labels":false,"title":null}}
}},
{"transform":[{"filter":"datum.T === 'T=3.2'"}],
"mark":{"type":"point","shape":"M-1,0L1,0M0,-1L0,1M-0.75,-0.75L0.75,0.75M-0.75,0.75L0.75,-0.75","filled":false,"color":"#ffd700","size":36,"strokeWidth":1.5,"opacity":1},
"encoding":{
"x":{"field":"mu","type":"quantitative","axis":null},
"y":{"field":"v","type":"quantitative","axis":null}
}}
],
"resolve":{"axis":{"x":"independent","y":"independent"}}
}
